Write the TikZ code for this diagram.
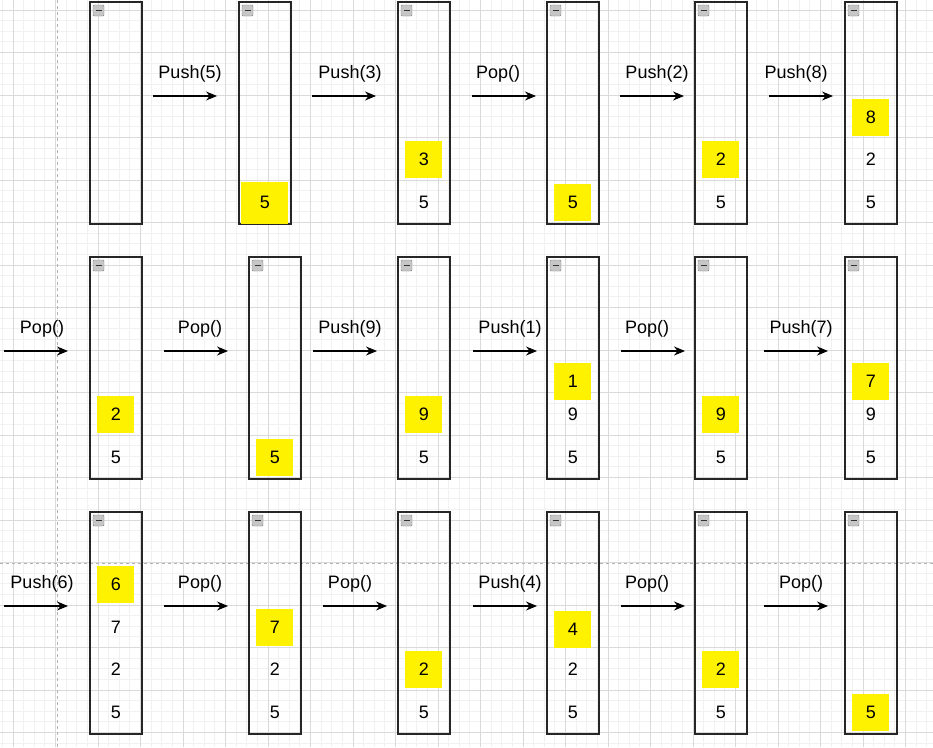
\documentclass[tikz,border=0pt]{standalone}
\usepackage{fontspec}
\setmainfont{Liberation Sans}
\usetikzlibrary{arrows.meta}

\definecolor{hl}{HTML}{FFF200}
\definecolor{gridminor}{HTML}{F1F1F1}
\definecolor{gridmajor}{HTML}{DADADA}

\begin{document}
\begin{tikzpicture}[x=1pt,y=-1pt,
    minorgrid/.style={gridminor, line width=0.8pt},
    majorgrid/.style={gridmajor, line width=0.8pt},
    guide/.style={gray!60, line width=0.8pt, dash pattern=on 3pt off 3pt},
    stackbox/.style={draw=black!85, line width=1.6pt, minimum width=52pt, minimum height=222pt, inner sep=0pt, anchor=north west},
    minusbox/.style={draw=gray, fill=gray!45, rounded corners=1pt, minimum size=11pt, inner sep=0pt,
        path picture={\draw[line width=1.6pt, black!80] ([xshift=2.5pt]path picture bounding box.west) -- ([xshift=-2.5pt]path picture bounding box.east);}},
    val/.style={inner sep=0pt, font=\fontsize{18}{18}\selectfont},
    topval/.style={val, fill=hl, minimum width=37pt, minimum height=37pt},
    oplabel/.style={inner sep=0pt, font=\fontsize{18}{18}\selectfont},
    arr/.style={-{Stealth[length=11pt,width=9pt]}, line width=1.1pt}]

        % canvas
        \useasboundingbox (0,0) rectangle (933,747);

        % background grid
        \foreach \i in {0,...,88}
            \draw[minorgrid] ({2.375+\i*10.625},0) -- ({2.375+\i*10.625},747);
        \foreach \i in {0,...,70}
            \draw[minorgrid] (0,{-0.625+\i*10.625}) -- (933,{-0.625+\i*10.625});
        \foreach \i in {0,...,21}
            \draw[majorgrid] ({13+\i*42.5},0) -- ({13+\i*42.5},747);
        \foreach \i in {0,...,17}
            \draw[majorgrid] (0,{10+\i*42.5}) -- (933,{10+\i*42.5});

        % guide lines
        \draw[guide] (57,0) -- (57,747);
        \draw[guide] (0,563) -- (933,563);

        % the stacks, one per step
        \foreach \n/\x in {1/89,2/238,3/397,4/546,5/694,6/844}
            \node[stackbox] (a\n) at (\x,1) {};
        \foreach \n/\x in {1/89,2/248,3/397,4/546,5/694,6/844} {
            \node[stackbox] (b\n) at (\x,256) {};
            \node[stackbox] (c\n) at (\x,511) {};
        }

        % collapse icons in the corner of each stack
        \foreach \r in {a,b,c} {
            \foreach \n in {1,...,6} {
                \node[minusbox] (m\r\n) at ([xshift=9.5pt,yshift=-9.5pt]\r\n.north west) {};
            }
        }

        % row 1 contents
        \node[topval, minimum width=47pt, minimum height=42pt] (a2t) at ([yshift=22pt]a2.south) {5};
        \node[val] (a3v1) at ([yshift=22pt]a3.south) {5};
        \node[topval] (a3t) at ([yshift=65pt]a3.south) {3};
        \node[topval] (a4t) at ([yshift=22pt]a4.south) {5};
        \node[val] (a5v1) at ([yshift=22pt]a5.south) {5};
        \node[topval] (a5t) at ([yshift=65pt]a5.south) {2};
        \node[val] (a6v1) at ([yshift=22pt]a6.south) {5};
        \node[val] (a6v2) at ([yshift=65pt]a6.south) {2};
        \node[topval] (a6t) at ([yshift=107pt]a6.south) {8};

        % row 2 contents
        \node[val] (b1v1) at ([yshift=22pt]b1.south) {5};
        \node[topval] (b1t) at ([yshift=65pt]b1.south) {2};
        \node[topval] (b2t) at ([yshift=22pt]b2.south) {5};
        \node[val] (b3v1) at ([yshift=22pt]b3.south) {5};
        \node[topval] (b3t) at ([yshift=65pt]b3.south) {9};
        \node[val] (b4v1) at ([yshift=22pt]b4.south) {5};
        \node[val] (b4v2) at ([yshift=65pt]b4.south) {9};
        \node[topval] (b4t) at ([yshift=98pt]b4.south) {1};
        \node[val] (b5v1) at ([yshift=22pt]b5.south) {5};
        \node[topval] (b5t) at ([yshift=65pt]b5.south) {9};
        \node[val] (b6v1) at ([yshift=22pt]b6.south) {5};
        \node[val] (b6v2) at ([yshift=65pt]b6.south) {9};
        \node[topval] (b6t) at ([yshift=98pt]b6.south) {7};

        % row 3 contents
        \node[val] (c1v1) at ([yshift=22pt]c1.south) {5};
        \node[val] (c1v2) at ([yshift=65pt]c1.south) {2};
        \node[val] (c1v3) at ([yshift=107pt]c1.south) {7};
        \node[topval] (c1t) at ([yshift=150pt]c1.south) {6};
        \node[val] (c2v1) at ([yshift=22pt]c2.south) {5};
        \node[val] (c2v2) at ([yshift=65pt]c2.south) {2};
        \node[topval] (c2t) at ([yshift=107pt]c2.south) {7};
        \node[val] (c3v1) at ([yshift=22pt]c3.south) {5};
        \node[topval] (c3t) at ([yshift=65pt]c3.south) {2};
        \node[val] (c4v1) at ([yshift=22pt]c4.south) {5};
        \node[val] (c4v2) at ([yshift=65pt]c4.south) {2};
        \node[topval] (c4t) at ([yshift=105pt]c4.south) {4};
        \node[val] (c5v1) at ([yshift=22pt]c5.south) {5};
        \node[topval] (c5t) at ([yshift=65pt]c5.south) {2};
        \node[topval] (c6t) at ([yshift=22pt]c6.south) {5};

        % operations between the steps
        \foreach \n/\x/\t/\d in {1/153/Push(5)/5, 2/312/Push(3)/6, 3/472/Pop()/-6, 4/620/Push(2)/5, 5/769/Push(8)/-5} {
            \coordinate (pa\n) at (\x,96);
            \coordinate (qa\n) at (\x+64,96);
            \draw[arr] (pa\n) -- (qa\n) node[oplabel, midway, yshift=22pt, xshift=\d pt] (la\n) {\t};
        }
        \foreach \n/\x/\t/\d in {1/4/Pop()/6, 2/164/Pop()/4, 3/313/Push(9)/5, 4/473/Push(1)/5, 5/621/Pop()/-6, 6/764/Push(7)/5} {
            \coordinate (pb\n) at (\x,351);
            \coordinate (qb\n) at (\x+64,351);
            \draw[arr] (pb\n) -- (qb\n) node[oplabel, midway, yshift=22pt, xshift=\d pt] (lb\n) {\t};
        }
        \foreach \n/\x/\t/\d in {1/4/Push(6)/6, 2/164/Pop()/4, 3/323/Pop()/-5, 4/473/Push(4)/5, 5/621/Pop()/-6, 6/764/Pop()/5} {
            \coordinate (pc\n) at (\x,606);
            \coordinate (qc\n) at (\x+64,606);
            \draw[arr] (pc\n) -- (qc\n) node[oplabel, midway, yshift=22pt, xshift=\d pt] (lc\n) {\t};
        }
    \end{tikzpicture}
\end{document}
